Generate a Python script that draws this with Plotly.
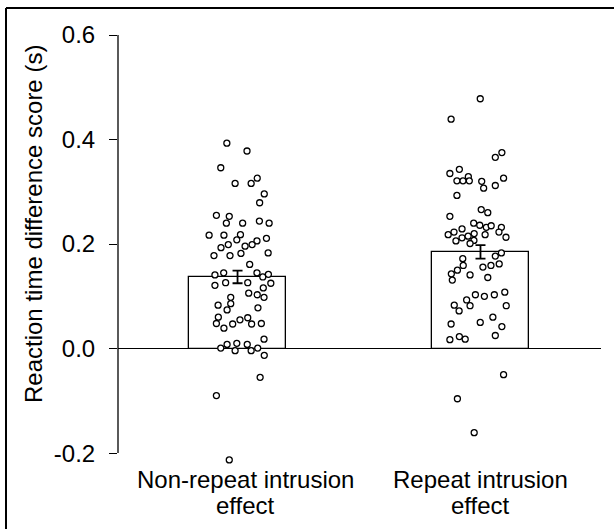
import plotly.graph_objects as go

# ---- data ----
label_line1 = ["Non-repeat intrusion", "Repeat intrusion"]
label_line2 = ["effect", "effect"]
means = [0.137, 0.185]
sems = [0.012, 0.013]

nonrepeat_values = [0.393, 0.378, 0.346, 0.316, 0.316, 0.326, 0.296, 0.279, 0.255, 0.253,
                    0.240, 0.240, 0.244, 0.240, 0.217, 0.217, 0.218, 0.208, 0.206, 0.211,
                    0.193, 0.199, 0.196, 0.199, 0.178, 0.178, 0.182, 0.183, 0.161, 0.141,
                    0.145, 0.145, 0.137, 0.142, 0.121, 0.126, 0.126, 0.125, 0.116, 0.106,
                    0.103, 0.098, 0.098, 0.083, 0.086, 0.074, 0.078, 0.060, 0.055, 0.059,
                    0.048, 0.039, 0.047, 0.047, 0.048, 0.018, 0.001, 0.008, -0.004, 0.010,
                    0.008, -0.004, 0.001, -0.013, -0.055, -0.090, -0.213]
nonrepeat_jitter = [-0.044, 0.039, -0.069, -0.010, 0.056, 0.081, 0.110, 0.091, -0.087, -0.034,
                    -0.046, 0.021, 0.090, 0.130, -0.117, -0.056, 0.012, -0.003, 0.080, 0.119,
                    -0.068, -0.038, 0.031, 0.060, -0.097, -0.031, 0.014, 0.126, 0.050, -0.093,
                    -0.057, 0.080, 0.104, 0.127, -0.093, -0.049, 0.042, 0.137, 0.106, 0.046,
                    0.081, 0.109, -0.028, -0.080, -0.028, -0.043, 0.084, -0.079, 0.010, 0.042,
                    -0.087, -0.056, -0.020, 0.058, 0.098, 0.109, -0.069, -0.043, -0.010, -0.003,
                    0.040, 0.056, 0.083, 0.110, 0.093, -0.087, -0.034]

repeat_values = [0.478, 0.439, 0.366, 0.375, 0.335, 0.343, 0.321, 0.321, 0.329, 0.321,
                 0.320, 0.307, 0.312, 0.326, 0.293, 0.266, 0.260, 0.253, 0.240, 0.236,
                 0.232, 0.235, 0.232, 0.223, 0.213, 0.218, 0.223, 0.229, 0.206, 0.212,
                 0.215, 0.220, 0.207, 0.201, 0.218, 0.177, 0.183, 0.172, 0.159, 0.156,
                 0.159, 0.162, 0.150, 0.143, 0.141, 0.136, 0.131, 0.103, 0.100, 0.103,
                 0.108, 0.093, 0.083, 0.072, 0.082, 0.082, 0.060, 0.050, 0.047, 0.042,
                 0.025, 0.017, 0.023, 0.018, -0.050, -0.096, -0.161]
repeat_jitter = [-0.001, -0.121, 0.061, 0.088, -0.126, -0.087, -0.097, -0.072, -0.050, -0.046,
                 0.005, 0.013, 0.061, 0.095, -0.097, 0.003, 0.030, -0.126, -0.028, -0.003,
                 0.024, 0.044, 0.086, 0.076, 0.105, -0.133, -0.109, -0.076, -0.101, -0.076,
                 -0.051, -0.026, -0.027, -0.043, 0.019, 0.061, 0.086, -0.073, -0.071, 0.010,
                 0.043, 0.077, -0.095, -0.120, -0.043, 0.030, -0.116, -0.021, 0.016, 0.057,
                 0.100, -0.057, -0.108, -0.088, -0.043, 0.106, 0.051, -0.001, -0.121, 0.088,
                 0.061, -0.126, -0.087, -0.063, 0.095, -0.095, -0.026]

y_tickvals = [-0.2, 0.0, 0.2, 0.4, 0.6]
y_ticktext = ["-0.2", "0.0", "0.2", "0.4", "0.6"]
y_axis_span = [-0.2, 0.6]
y_title = "Reaction time difference score (s)"

# ---- layout constants ----
W, H = 614, 529
ML, MR, MT, MB = 118, 13, 35, 55
PW, PH = W - ML - MR, H - MT - MB
FONT = "Liberation Sans, Arial, sans-serif"
Y_RANGE = [-0.24, 0.6]


def px_x(px):
    return (px - ML) / PW


def px_y(py):
    return (H - MB - py) / PH


fig = go.Figure()

fig.add_trace(go.Bar(
    x=[0, 1], y=means, width=0.4,
    marker=dict(color="white", line=dict(color="black", width=1.3)),
    error_y=dict(type="data", array=sems, visible=True, color="black", thickness=1.8, width=5),
    showlegend=False, hoverinfo="skip",
))

for i, (vals, jit) in enumerate([(nonrepeat_values, nonrepeat_jitter), (repeat_values, repeat_jitter)]):
    fig.add_trace(go.Scatter(
        x=[i + j for j in jit], y=vals, mode="markers",
        marker=dict(symbol="circle", size=6, color="white", line=dict(color="black", width=1.3)),
        cliponaxis=False, showlegend=False, hoverinfo="skip",
    ))

fig.update_layout(
    width=W, height=H,
    margin=dict(l=ML, r=MR, t=MT, b=MB, autoexpand=False),
    paper_bgcolor="white", plot_bgcolor="white",
    font=dict(family=FONT, size=24, color="black"),
    bargap=0,
    xaxis=dict(range=[-0.492, 1.496], showline=False, showgrid=False, zeroline=False,
               showticklabels=False, ticks=""),
    yaxis=dict(range=Y_RANGE, tickvals=y_tickvals, ticktext=y_ticktext,
               ticks="outside", ticklen=8, tickwidth=1.3, tickcolor="black",
               showline=False, showgrid=False,
               zeroline=True, zerolinecolor="black", zerolinewidth=1.3,
               ticklabelstandoff=9,
               tickfont=dict(family=FONT, size=24, color="black")),
)

# y axis line only over the labelled span
fig.add_shape(type="line", xref="paper", yref="y", x0=0, x1=0,
              y0=y_axis_span[0], y1=y_axis_span[1], line=dict(color="black", width=1.3))

annotations = [
    dict(text=y_title, xref="paper", yref="paper", x=px_x(33), y=px_y(224),
         textangle=-90, showarrow=False, xanchor="center", yanchor="middle",
         font=dict(family=FONT, size=24, color="black")),
]
shifts = [8, 0]
for i in range(2):
    annotations.append(dict(text=label_line1[i], xref="x", yref="paper", x=i, y=px_y(479),
                            xshift=shifts[i], showarrow=False, xanchor="center", yanchor="middle",
                            font=dict(family=FONT, size=24, color="black")))
    annotations.append(dict(text=label_line2[i], xref="x", yref="paper", x=i, y=px_y(506),
                            xshift=shifts[i], showarrow=False, xanchor="center", yanchor="middle",
                            font=dict(family=FONT, size=24, color="black")))
fig.update_layout(annotations=annotations)

# outer frame (top and left edges visible in the reference)
fig.add_shape(type="line", xref="paper", yref="paper", x0=px_x(6), x1=px_x(W + 2),
              y0=px_y(8), y1=px_y(8), line=dict(color="black", width=2))
fig.add_shape(type="line", xref="paper", yref="paper", x0=px_x(6), x1=px_x(6),
              y0=px_y(8), y1=px_y(H + 2), line=dict(color="black", width=2))

fig.write_html("out.html", config={"displayModeBar": False},
               post_script="document.body.style.margin='0';")
